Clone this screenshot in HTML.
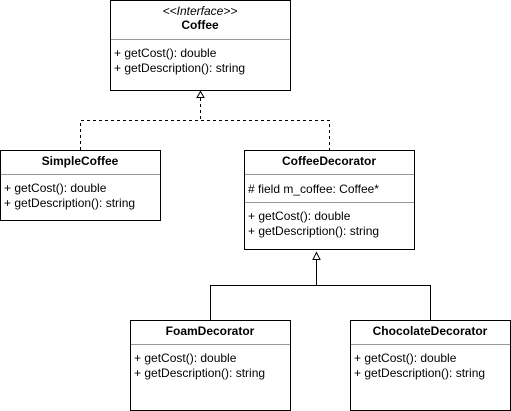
<!DOCTYPE html>
<html><head><style>
html,body{margin:0;padding:0;background:#fff;}
svg{display:block;}
text{font-family:"Liberation Sans",Arial,sans-serif;font-size:12px;fill:#000;}
.b{font-weight:bold;}
</style></head><body>
<svg width="511" height="411" viewBox="0 0 511 411" xmlns="http://www.w3.org/2000/svg">
<g fill="#fff" stroke="#000" stroke-width="1">
<rect x="110.5" y="0.5" width="180" height="90"/>
<rect x="0.5" y="150.5" width="160" height="70"/>
<rect x="244.5" y="150.5" width="170" height="99"/>
<rect x="130.5" y="320.5" width="160" height="90"/>
<rect x="350.5" y="320.5" width="160" height="90"/>
</g>
<g stroke="#999" stroke-width="1">
<line x1="111" y1="39.5" x2="290" y2="39.5"/>
<line x1="1" y1="174.5" x2="160" y2="174.5"/>
<line x1="245" y1="174.5" x2="414" y2="174.5"/>
<line x1="245" y1="202.5" x2="414" y2="202.5"/>
<line x1="131" y1="344.5" x2="290" y2="344.5"/>
<line x1="351" y1="344.5" x2="510" y2="344.5"/>
</g>
<g fill="none" stroke="#000" stroke-width="1">
<path d="M200.5 98 V120.5 M80.5 150 V120.5 H329.5 V150" stroke-dasharray="3,3"/>
<path d="M200.5 91.5 L197 97.5 H204 Z" fill="#fff"/>
<path d="M316.5 260 V285.5 M210.5 320 V285.5 H430.5 V320" />
<path d="M316.5 252.5 L313 259.5 H320 Z" fill="#fff"/>
</g>
<text x="200" y="15" text-anchor="middle" font-style="italic">&lt;&lt;Interface&gt;&gt;</text>
<text x="200" y="29" text-anchor="middle" class="b">Coffee</text>
<text x="114" y="57">+ getCost(): double</text>
<text x="114" y="72">+ getDescription(): string</text>
<text x="80" y="165" text-anchor="middle" class="b">SimpleCoffee</text>
<text x="4" y="192">+ getCost(): double</text>
<text x="4" y="207">+ getDescription(): string</text>
<text x="329" y="165" text-anchor="middle" class="b">CoffeeDecorator</text>
<text x="248" y="193"># field m_coffee: Coffee*</text>
<text x="248" y="220">+ getCost(): double</text>
<text x="248" y="235">+ getDescription(): string</text>
<text x="210" y="335" text-anchor="middle" class="b">FoamDecorator</text>
<text x="134" y="362">+ getCost(): double</text>
<text x="134" y="377">+ getDescription(): string</text>
<text x="430" y="335" text-anchor="middle" class="b">ChocolateDecorator</text>
<text x="354" y="362">+ getCost(): double</text>
<text x="354" y="377">+ getDescription(): string</text>
</svg>
</body></html>
